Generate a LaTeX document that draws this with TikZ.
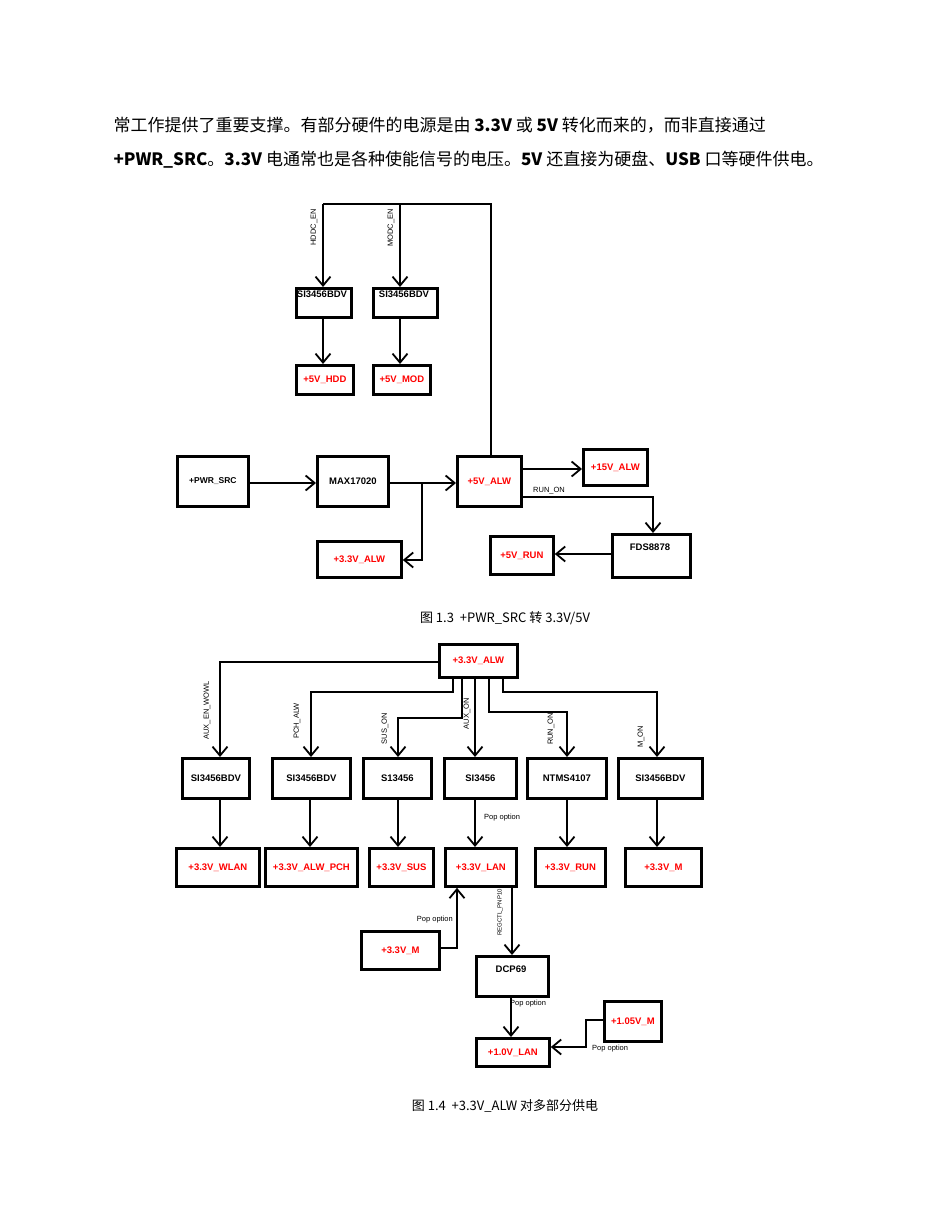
\documentclass[tikz,border=0pt]{standalone}
\usepackage{fontspec}
\setmainfont{Liberation Sans}
\newfontfamily\cjk{Noto Sans CJK SC}
\usetikzlibrary{arrows.meta}
\begin{document}
\begin{tikzpicture}[x=1pt,y=-1pt,
  bx/.style={draw,line width=2.8pt,inner sep=0pt,font=\bfseries\fontsize{9.5}{10}\selectfont},
  rd/.style={text=red},
  ar/.style={line width=2.8pt,-{Straight Barb[length=9pt,width=15pt,line width=1.8pt]}},
  ln/.style={line width=2.8pt},
  lab/.style={font=\fontsize{7.5}{8}\selectfont,inner sep=1pt},
  rl/.style={lab,rotate=90,anchor=east}]
\useasboundingbox (0,0) rectangle (950,1230);
\node[anchor=west,font=\cjk\fontsize{17}{19}\selectfont] (t1) at (110,125) {常工作提供了重要支撑。有部分硬件的电源是由 \textbf{3.3V} 或 \textbf{5V} 转化而来的，而非直接通过};
\node[anchor=west,font=\cjk\fontsize{17}{19}\selectfont] (t2) at (110,160) {\textbf{+PWR\_SRC}。\textbf{3.3V} 电通常也是各种使能信号的电压。\textbf{5V} 还直接为硬盘、\textbf{USB} 口等硬件供电。};
% fig 1.3
\node[bx,minimum width=55pt,minimum height=29pt,anchor=north west] (h1) at (295,287) {};
\node[bx,minimum width=64pt,minimum height=29pt,anchor=north west] (m1) at (372,287) {};
\node[anchor=north,font=\bfseries\fontsize{9.5}{10}\selectfont,inner sep=1pt] (h1t) at (322,290) {SI3456BDV};
\node[anchor=north,font=\bfseries\fontsize{9.5}{10}\selectfont,inner sep=1pt] (m1t) at (404,290) {SI3456BDV};
\node[bx,minimum width=57pt,minimum height=29pt,anchor=north west,rd] (h2) at (295,364) {+5V\_HDD};
\node[bx,minimum width=57pt,minimum height=29pt,anchor=north west,rd] (m2) at (372,364) {+5V\_MOD};
\node[bx,minimum width=71pt,minimum height=50pt,anchor=north west,font=\fontsize{8.5}{9}\selectfont\bfseries] (pw) at (176,455) {+PWR\_SRC};
\node[bx,minimum width=71pt,minimum height=50pt,anchor=north west] (mx) at (316,455) {MAX17020};
\node[bx,minimum width=64pt,minimum height=50pt,anchor=north west,rd] (a5) at (456,455) {+5V\_ALW};
\node[bx,minimum width=64pt,minimum height=36pt,anchor=north west,rd] (a15) at (582,448) {+15V\_ALW};
\node[bx,minimum width=78pt,minimum height=43pt,anchor=north west] (fds) at (611,533) {};
\node[anchor=north,font=\bfseries\fontsize{9.5}{10}\selectfont] (fdst) at (650,540) {FDS8878};
\node[bx,minimum width=63pt,minimum height=38pt,anchor=north west,rd] (r5) at (489,535) {+5V\_RUN};
\node[bx,minimum width=84pt,minimum height=36pt,anchor=north west,rd] (a33) at (316,540) {+3.3V\_ALW};
\coordinate (tl) at (323,204); \coordinate (tr) at (491,204);
\draw[ln] (a5.north -| tr) -- (tr) -- (tl);
\draw[ar] (tl) -- (h1.north -| tl);
\draw[ar] (400,204) -- (m1.north -| 400,0);
\node[rl] at (314,208) {HDDC\_EN};
\node[rl] at (391,208) {MODC\_EN};
\draw[ar] (h1.south -| tl) -- (h2.north -| tl);
\draw[ar] (m1.south -| 400,0) -- (m2.north -| 400,0);
\draw[ar] (pw.east |- 0,483) -- (mx.west |- 0,483);
\draw[ar] (mx.east |- 0,483) -- (a5.west |- 0,483);
\draw[ar] (422,483) -- (422,560) -- (a33.east |- 0,560);
\draw[ar] (a5.east |- 0,469) -- (a15.west |- 0,469);
\draw[ar] (a5.east |- 0,497) -- (653,497) -- (fds.north -| 653,0);
\node[lab,anchor=south west] at (532,495) {RUN\_ON};
\draw[ar] (fds.west |- 0,554) -- (r5.east |- 0,554);
\node[font=\cjk\fontsize{13}{15}\selectfont] (c1) at (505,618) {图 1.3\ \ +PWR\_SRC 转 3.3V/5V};
% fig 1.4
\node[bx,minimum width=78pt,minimum height=33pt,anchor=north west,rd] (top) at (438,643) {+3.3V\_ALW};
\foreach \n/\l/\r/\t in {b1/181/248/SI3456BDV,b2/271/349/SI3456BDV,b3/362/430/S13456,b4/443/515/SI3456,b5/526/605/NTMS4107,b6/617/701/SI3456BDV}{
  \node[bx,minimum width=\r pt-\l pt,minimum height=40pt,anchor=north west] (\n) at (\l,757) {\t};}
\foreach \n/\l/\r/\t in {c1b/175/258/+3.3V\_WLAN,c2/264/356/+3.3V\_ALW\_PCH,c3/368/432/+3.3V\_SUS,c4/444/515/+3.3V\_LAN,c5/534/604/+3.3V\_RUN,c6/624/700/+3.3V\_M}{
  \node[bx,rd,minimum width=\r pt-\l pt,minimum height=38pt,anchor=north west] (\n) at (\l,847) {\t};}
\draw[ar] (top.west |- 0,662) -- (220,662) -- (b1.north -| 220,0);
\draw[ar] (top.south -| 453,0) -- (453,692) -- (311,692) -- (b2.north -| 311,0);
\draw[ar] (top.south -| 462,0) -- (462,718) -- (398,718) -- (b3.north -| 398,0);
\draw[ar] (top.south -| 475,0) -- (b4.north -| 475,0);
\draw[ar] (top.south -| 489,0) -- (489,712) -- (567,712) -- (b5.north -| 567,0);
\draw[ar] (top.south -| 503,0) -- (503,692) -- (657,692) -- (b6.north -| 657,0);
\node[rl] at (207,680) {AUX\_EN\_WOWL};
\node[rl] at (297,702) {PCH\_ALW};
\node[rl] at (385,712) {SUS\_ON};
\node[rl] at (467,697) {AUX\_ON};
\node[rl] at (551,712) {RUN\_ON};
\node[rl] at (641,725) {M\_ON};
\foreach \a/\b/\x in {b1/c1b/220,b2/c2/310,b3/c3/398,b4/c4/475,b5/c5/567,b6/c6/657}{
  \draw[ar] (\a.south -| \x,0) -- (\b.north -| \x,0);}
\node[lab,anchor=west] at (483,818) {Pop option};
\node[bx,rd,minimum width=78pt,minimum height=38pt,anchor=north west] (m33) at (360,930) {+3.3V\_M};
\draw[ar] (m33.east |- 0,948) -- (457,948) -- (c4.south -| 457,0);
\node[lab,anchor=east] at (454,920) {Pop option};
\node[bx,minimum width=72pt,minimum height=40pt,anchor=north west] (dcp) at (475,955) {};
\node[font=\bfseries\fontsize{9.5}{10}\selectfont,anchor=north] (dcpt) at (511,962) {DCP69};
\draw[ar] (c4.south -| 512,0) -- (dcp.north -| 512,0);
\node[rl,font=\fontsize{6}{7}\selectfont] at (500,888) {REGCTL\_PNP10};
\node[bx,rd,minimum width=73pt,minimum height=28pt,anchor=north west] (l10) at (475,1037) {+1.0V\_LAN};
\node[bx,rd,minimum width=57pt,minimum height=40pt,anchor=north west] (m105) at (603,1000) {+1.05V\_M};
\draw[ar] (dcp.south -| 511,0) -- (l10.north -| 511,0);
\node[lab,anchor=west] at (509,1004) {Pop option};
\draw[ar] (m105.west |- 0,1020) -- (586,1020) -- (586,1047) -- (l10.east |- 0,1047);
\node[lab,anchor=west] at (591,1049) {Pop option};
\node[font=\cjk\fontsize{13}{15}\selectfont] (c2cap) at (505,1106) {图 1.4\ \ +3.3V\_ALW 对多部分供电};
\end{tikzpicture}
\end{document}
